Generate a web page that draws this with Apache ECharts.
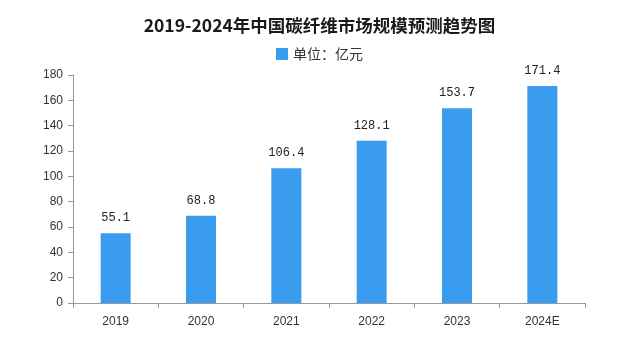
<!DOCTYPE html>
<html>
<head>
<meta charset="utf-8">
<script src="https://cdn.jsdelivr.net/npm/echarts@6/dist/echarts.min.js"></script>
<style>
  html, body { margin: 0; padding: 0; background: #fff; }
  #chart { width: 639px; height: 340px; }
</style>
</head>
<body>
<div id="chart"></div>
<script>
// Market size of China's carbon fibre industry, 100 million yuan
const years = ['2019', '2020', '2021', '2022', '2023', '2024E'];
const marketSize = [55.1, 68.8, 106.4, 128.1, 153.7, 171.4];
const yTicks = { min: 0, max: 180, interval: 20 };

const chart = echarts.init(document.getElementById('chart'));
chart.setOption({
  backgroundColor: '#ffffff',
  animation: false,
  title: {
    text: '2019-2024年中国碳纤维市场规模预测趋势图',
    left: 'center',
    top: 12,
    textStyle: {
      fontFamily: 'Noto Sans CJK SC',
      fontSize: 17.5,
      fontWeight: 'bold',
      color: '#1a1a1a'
    }
  },
  legend: {
    top: 42,
    left: 'center',
    itemWidth: 12,
    itemHeight: 12,
    itemGap: 6,
    icon: 'rect',
    textStyle: { fontFamily: 'Noto Sans CJK SC', fontSize: 14, color: '#333' },
    data: ['单位：亿元']
  },
  grid: { left: 73, right: 54, top: 75, bottom: 37, containLabel: false },
  xAxis: {
    type: 'category',
    data: years,
    axisLine: { lineStyle: { color: '#999', width: 1 } },
    axisTick: { show: true, alignWithLabel: false, length: 5, lineStyle: { color: '#999' } },
    axisLabel: { color: '#333', fontSize: 12, margin: 13, fontFamily: 'Liberation Sans' }
  },
  yAxis: {
    type: 'value',
    min: yTicks.min,
    max: yTicks.max,
    interval: yTicks.interval,
    axisLine: { show: true, lineStyle: { color: '#999', width: 1 } },
    axisTick: { show: true, length: 5, lineStyle: { color: '#999' } },
    splitLine: { show: false },
    axisLabel: { color: '#333', fontSize: 12, margin: 10, fontFamily: 'Liberation Sans' }
  },
  series: [{
    name: '单位：亿元',
    type: 'bar',
    data: marketSize,
    barWidth: 30,
    itemStyle: { color: '#3a9cef' },
    label: {
      show: true,
      position: 'top',
      distance: 9,
      color: '#222',
      fontSize: 12,
      fontFamily: 'Liberation Mono',
      formatter: p => p.value.toFixed(1)
    }
  }]
});
</script>
</body>
</html>
